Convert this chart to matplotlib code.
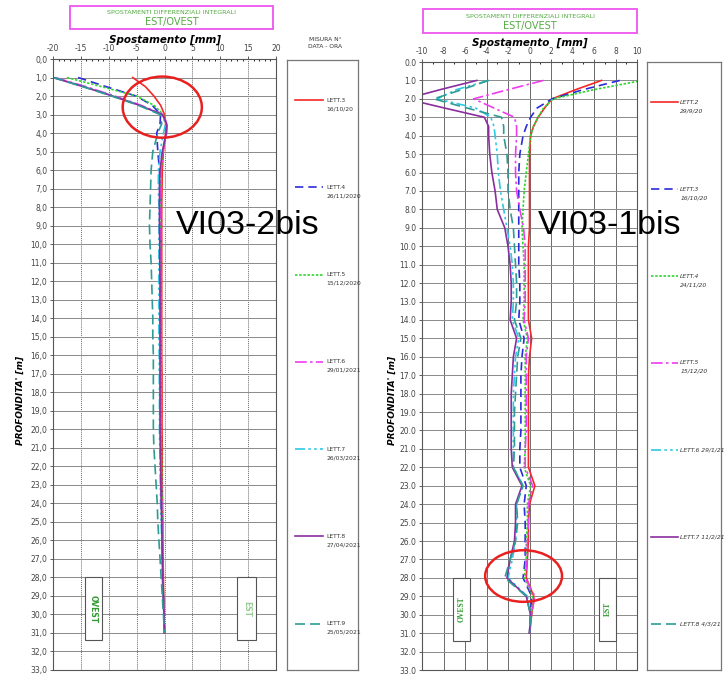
import matplotlib.pyplot as plt
from matplotlib.patches import Ellipse, Rectangle
from matplotlib.lines import Line2D
from matplotlib.ticker import MultipleLocator, FuncFormatter

W, H = 725, 685

# depths of the readings [m]
depth = [1.0, 1.5, 2.0, 2.5, 3.0, 3.5, 4.0, 5, 6, 7, 8, 9, 10, 11, 12, 13, 14, 15,
         16, 17, 18, 19, 20, 21, 22, 23, 24, 25, 26, 27, 28, 29, 30, 31]

# VI03-2bis (left) readings [mm]
l_lett3 = [-5.7, -3.4, -1.9, -0.7, 0.0, 0.2, 0.2, -0.2, -0.4, -0.45, -0.5, -0.5, -0.5, -0.5, -0.5, -0.5, -0.5,
           -0.5, -0.5, -0.45, -0.45, -0.45, -0.45, -0.4, -0.4, -0.4, -0.35, -0.3, -0.3, -0.25, -0.2, -0.15, -0.1, 0.0]
l_lett4 = [-15.5, -10.4, -5.1, -2.2, -0.7, -0.8, -1.4, -1.2, -0.9, -0.85, -0.8, -0.8, -0.8, -0.8, -0.8, -0.75, -0.75,
           -0.75, -0.7, -0.7, -0.7, -0.7, -0.7, -0.65, -0.6, -0.55, -0.5, -0.45, -0.4, -0.35, -0.3, -0.2, -0.1, 0.0]
l_lett5 = [-17.5, -11.2, -5.0, -1.9, -0.2, 0.3, 0.3, -0.3, -0.6, -0.7, -0.7, -0.7, -0.7, -0.7, -0.65, -0.65, -0.65,
           -0.65, -0.6, -0.6, -0.6, -0.6, -0.6, -0.55, -0.5, -0.5, -0.45, -0.4, -0.35, -0.3, -0.25, -0.2, -0.1, 0.0]
l_lett6 = [-19.6, -14.0, -8.9, -4.2, -0.3, 0.5, 0.4, -0.3, -0.6, -0.7, -0.7, -0.7, -0.7, -0.7, -0.7, -0.7, -0.7,
           -0.7, -0.7, -0.7, -0.7, -0.7, -0.7, -0.65, -0.6, -0.55, -0.5, -0.45, -0.4, -0.35, -0.3, -0.2, -0.1, 0.0]
l_lett7 = [-19.8, -14.3, -9.2, -4.4, -0.5, 0.2, -0.2, -0.8, -1.1, -1.1, -1.0, -1.0, -1.0, -1.0, -1.0, -1.0, -1.0,
           -1.0, -0.95, -0.95, -0.9, -0.9, -0.9, -0.85, -0.8, -0.75, -0.7, -0.6, -0.5, -0.45, -0.4, -0.3, -0.15, 0.0]
l_lett8 = [-20.0, -14.5, -9.3, -4.5, -0.4, 0.4, 0.3, -0.4, -0.8, -0.9, -0.9, -0.9, -0.85, -0.85, -0.8, -0.8, -0.8,
           -0.8, -0.8, -0.8, -0.8, -0.8, -0.8, -0.75, -0.7, -0.65, -0.6, -0.5, -0.45, -0.4, -0.3, -0.2, -0.1, 0.0]
l_lett9 = [-20.0, -14.6, -9.5, -4.7, -0.8, -0.5, -1.2, -2.1, -2.4, -2.5, -2.6, -2.7, -2.6, -2.4, -2.3, -2.2, -2.1,
           -2.1, -2.0, -2.0, -2.0, -2.0, -2.0, -1.9, -1.7, -1.5, -1.3, -1.2, -1.0, -0.8, -0.6, -0.4, -0.2, 0.0]
left_labels = ["LETT.3\n16/10/20", "LETT.4\n26/11/2020", "LETT.5\n15/12/2020", "LETT.6\n29/01/2021",
               "LETT.7\n26/03/2021", "LETT.8\n27/04/2021", "LETT.9\n25/05/2021"]

# VI03-1bis (right) readings [mm]
r_lett2 = [6.7, 4.3, 2.1, 1.4, 0.8, 0.37, 0.1, 0.0, 0.0, 0.0, 0.0, 0.0, -0.1, -0.1, -0.1, -0.1, -0.1, 0.2,
           0.0, -0.1, -0.1, -0.1, -0.1, -0.1, -0.1, 0.5, 0.0, -0.1, -0.1, -0.2, -0.3, 0.4, 0.2, 0.0]
r_lett3 = [8.4, 5.0, 2.1, 0.7, 0.1, -0.3, -0.6, -0.9, -1.0, -1.0, -1.0, -1.0, -1.0, -1.0, -0.9, -0.9, -1.0, -0.5,
           -0.7, -0.8, -0.8, -0.8, -0.8, -0.9, -0.9, -0.3, -0.5, -0.4, -0.4, -0.4, -0.6, 0.2, 0.1, 0.0]
r_lett4 = [10.5, 6.0, 2.2, 1.3, 0.8, 0.37, 0.1, -0.1, -0.3, -0.5, -0.6, -0.7, -0.6, -0.5, -0.5, -0.5, -0.6, -0.2,
           -0.4, -0.4, -0.4, -0.4, -0.4, -0.4, -0.5, 0.1, -0.2, -0.2, -0.3, -0.3, -0.5, 0.3, 0.2, 0.0]
r_lett5 = [1.3, -2.0, -5.2, -3.3, -1.4, -1.2, -1.2, -1.3, -1.3, -1.2, -0.9, -0.55, -0.4, -0.4, -0.4, -0.4, -0.5, -0.1,
           -0.3, -0.3, -0.3, -0.3, -0.3, -0.4, -0.4, 0.3, -0.1, -0.1, -0.2, -0.2, -0.4, 0.5, 0.2, 0.0]
r_lett6 = [-3.8, -6.8, -8.6, -5.0, -3.6, -3.3, -3.2, -3.0, -2.9, -2.7, -2.4, -2.1, -1.8, -1.6, -1.5, -1.5, -1.6, -1.0,
           -1.3, -1.4, -1.5, -1.5, -1.5, -1.5, -1.5, -0.6, -1.2, -1.2, -1.3, -1.6, -2.0, -0.2, 0.1, 0.0]
r_lett7 = [-4.9, -8.3, -11.5, -7.9, -4.2, -3.8, -3.8, -3.7, -3.5, -3.2, -3.0, -2.3, -2.0, -1.8, -1.7, -1.7, -1.8, -1.2,
           -1.5, -1.6, -1.7, -1.7, -1.7, -1.7, -1.6, -0.7, -1.3, -1.3, -1.4, -1.8, -2.1, -0.3, 0.1, 0.0]
r_lett8 = [-3.8, -6.3, -8.9, -5.8, -2.6, -2.4, -2.4, -2.1, -2.0, -2.0, -1.8, -1.5, -1.4, -1.3, -1.2, -1.2, -1.4, -0.8,
           -1.1, -1.2, -1.3, -1.4, -1.4, -1.4, -1.5, -0.6, -1.2, -1.1, -1.3, -1.8, -2.3, -0.3, 0.1, 0.0]
right_labels = ["LETT.2\n29/9/20", "LETT.3\n16/10/20", "LETT.4\n24/11/20", "LETT.5\n15/12/20",
                "LETT.6 29/1/21", "LETT.7 11/2/21", "LETT.8 4/3/21"]

colors = ["#f52828", "#2b2bdc", "#2fd62f", "#f03cf0", "#2cc8e6", "#8a2e9e", "#2e9c94"]
styles = ["-", (0, (5, 3)), (0, (1.5, 1)), (0, (7, 2, 1.5, 2)), (0, (6, 2, 1.5, 2, 1.5, 2)), "-", (0, (6, 3))]


def box(x0, y0, x1, y1):
    return [x0 / W, 1 - y1 / H, (x1 - x0) / W, (y1 - y0) / H]


def panel(rect, xlim, xstep, series, dec, vgrid_ls):
    ax = fig.add_axes(rect)
    for vals, c, ls in zip(series, colors, styles):
        ax.plot(vals, depth, color=c, linestyle=ls, lw=1.2)
    ax.set_xlim(*xlim)
    ax.set_ylim(33, 0)
    ax.xaxis.tick_top()
    ax.xaxis.set_major_locator(MultipleLocator(xstep))
    ax.xaxis.set_minor_locator(MultipleLocator(1))
    ax.yaxis.set_major_locator(MultipleLocator(1))
    ax.yaxis.set_major_formatter(FuncFormatter(lambda v, p: f"{v:.1f}".replace(".", dec)))
    ax.xaxis.set_major_formatter(FuncFormatter(lambda v, p: f"{v:g}"))
    ax.tick_params(labelsize=5.5, colors="#444444", length=2, width=0.6, pad=2)
    ax.tick_params(axis="x", which="minor", length=1.5, direction="in", top=True)
    ax.grid(axis="y", color="#8a8a8a", lw=0.7)
    ax.grid(axis="x", color="#6a6a6a", lw=0.7, linestyle=vgrid_ls)
    for s in ax.spines.values():
        s.set_color("#555555")
        s.set_linewidth(0.8)
    return ax


def legend_box(rect, labels, x_line, x_text, italic):
    lg = fig.add_axes(rect)
    lg.set_xticks([])
    lg.set_yticks([])
    lg.set_xlim(0, 1)
    lg.set_ylim(0, 1)
    for s in lg.spines.values():
        s.set_color("#777777")
        s.set_linewidth(0.9)
    for i, (lab, c, ls) in enumerate(zip(labels, colors, styles)):
        y = 1 - (0.066 + i * 0.143)
        lg.add_line(Line2D(x_line, [y, y], color=c, linestyle=ls, lw=1.2))
        for j, part in enumerate(lab.split("\n")):
            lg.text(x_text, y - j * 0.014, part, fontsize=4.3, va="center", color="#333333",
                    style="italic" if italic else "normal")


def title_box(x0, y0, x1, y1, ty1, ty2):
    fig.patches.append(Rectangle((x0 / W, 1 - y1 / H), (x1 - x0) / W, (y1 - y0) / H,
                                 transform=fig.transFigure, fill=False, ec="#ee55ee", lw=1.3))
    xc = (x0 + x1) / 2 / W
    fig.text(xc, 1 - ty1 / H, "SPOSTAMENTI DIFFERENZIALI INTEGRALI", fontsize=4.6, color="#55aa44",
             ha="center", va="center")
    fig.text(xc, 1 - ty2 / H, "EST/OVEST", fontsize=7, color="#55aa44", ha="center", va="center")


def side_box(ax, x0, x1, text, rot, alpha, family):
    ax.add_patch(Rectangle((x0, 28.0), x1 - x0, 3.4, fill=True, fc="white", ec="#555555", lw=0.8, zorder=3))
    ax.text((x0 + x1) / 2, 29.7, text, rotation=rot, ha="center", va="center", fontsize=5.5,
            color="#2f9a2f", alpha=alpha, fontweight="bold", family=family, zorder=4)


fig = plt.figure(figsize=(W / 100, H / 100), dpi=100)

# left panel VI03-2bis
axl = panel(box(53, 59, 276, 670), (-20, 20), 5,
            [l_lett3, l_lett4, l_lett5, l_lett6, l_lett7, l_lett8, l_lett9], ",", (0, (1, 1)))
axl.add_patch(Ellipse((-0.4, 2.6), 14.2, 3.3, fill=False, ec="#e82020", lw=1.8, zorder=5))
side_box(axl, -14.3, -11.2, "OVEST", 270, 1.0, "DejaVu Sans")
side_box(axl, 13.0, 16.4, "EST", 270, 0.5, "DejaVu Sans")
legend_box(box(287, 60, 358, 670), left_labels, [0.11, 0.51], 0.55, False)
title_box(70, 6, 273, 29, 13, 22)
fig.text(165 / W, 1 - 40 / H, "Spostamento [mm]", fontsize=7.5, fontweight="bold", style="italic",
         ha="center", va="center")
fig.text(325 / W, 1 - 43 / H, "MISURA N°\nDATA - ORA", fontsize=4.3, ha="center", va="center",
         color="#333333", linespacing=1.3)
fig.text(20 / W, 1 - 400 / H, "PROFONDITA' [m]", rotation=90, fontsize=6.5, fontweight="bold",
         style="italic", ha="center", va="center")
fig.text(248 / W, 1 - 226 / H, "VI03-2bis", fontsize=24.5, ha="center", va="center", family="Liberation Sans")

# right panel VI03-1bis
axr = panel(box(422, 62, 637, 670), (-10, 10), 2,
            [r_lett2, r_lett3, r_lett4, r_lett5, r_lett6, r_lett7, r_lett8], ".", "-")
axr.add_patch(Ellipse((-0.55, 27.9), 7.15, 2.8, fill=False, ec="#e82020", lw=1.8, zorder=5))
side_box(axr, -7.1, -5.5, "OVEST", 90, 1.0, "Liberation Serif")
side_box(axr, 6.5, 8.05, "EST", 90, 1.0, "Liberation Serif")
legend_box(box(647, 62, 721, 670), right_labels, [0.05, 0.42], 0.45, True)
title_box(423, 9, 637, 33, 17, 26)
fig.text(530 / W, 1 - 43 / H, "Spostamento  [mm]", fontsize=7.5, fontweight="bold", style="italic",
         ha="center", va="center")
fig.text(392 / W, 1 - 400 / H, "PROFONDITA' [m]", rotation=90, fontsize=6.5, fontweight="bold",
         style="italic", ha="center", va="center")
fig.text(610 / W, 1 - 226 / H, "VI03-1bis", fontsize=24.5, ha="center", va="center", family="Liberation Sans")

fig.savefig("out.png", dpi=100)
